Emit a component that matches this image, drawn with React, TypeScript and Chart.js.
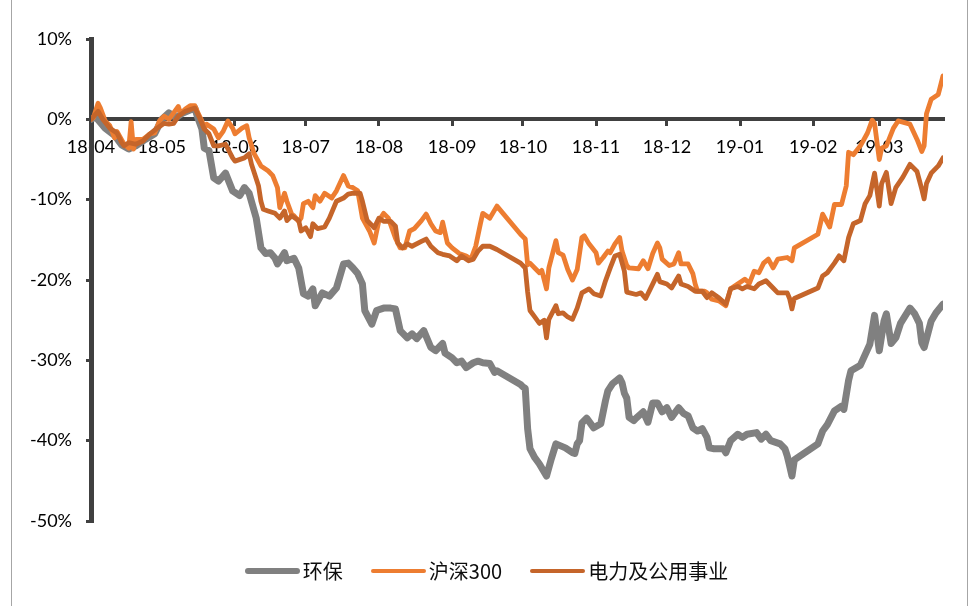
import { useEffect, useRef } from 'react';
import { Chart, registerables } from 'chart.js';

Chart.register(...registerables);

// Cumulative return (%) of three indices; x = calendar days counted from 2018-04-09.
const SERIES_NAMES = ['环保', '沪深300', '电力及公用事业'];

const hbDays = [
  0, 2, 6, 10, 13, 16, 19, 23, 27, 30, 33, 36, 39, 44, 45, 47, 48, 50, 52, 54, 57, 60, 63, 65, 67, 70, 72, 74, 76, 78,
  79, 82, 83, 86, 88, 90, 92, 94, 95, 98, 101, 104, 107, 109, 111, 113, 115, 116, 119, 121, 124, 127, 129, 131, 134,
  136, 138, 141, 144, 146, 149, 150, 153, 155, 157, 159, 162, 164, 166, 169, 171, 172, 182, 183, 184, 185, 186, 188,
  190, 191, 193, 195, 197, 201, 204, 205, 206, 207, 208, 210, 213, 216, 218, 219, 221, 224, 225, 226, 227, 228, 230,
  231, 234, 236, 238, 240, 242, 244, 246, 249, 251, 253, 255, 257, 259, 261, 262, 264, 268, 269, 271, 274, 276, 278,
  282, 284, 286, 288, 292, 294, 295, 296, 297, 298, 308, 310, 312, 315, 318, 319, 321, 322, 326, 330, 332, 334, 336,
  337, 339, 341, 343, 347, 349, 351, 352, 353, 356, 358, 361,
];
const hbPct = [
  0.0, 0.3, -1.1, -2.0, -3.2, -3.7, -3.3, -2.5, -1.8, 0.0, 0.8, 0.2, 0.8, 1.4, 0.4, -1.2, -3.6, -3.9, -7.3, -7.7, -6.7,
  -8.9, -9.5, -8.5, -9.2, -12.3, -16.0, -16.7, -16.6, -17.3, -18.0, -16.6, -17.6, -17.3, -18.5, -21.7, -22.0, -21.1,
  -23.2, -21.6, -22.0, -21.0, -18.0, -17.9, -18.5, -19.2, -20.5, -23.8, -25.5, -23.8, -23.5, -23.5, -23.6, -26.3,
  -27.2, -26.7, -27.3, -26.3, -28.4, -28.8, -27.9, -29.1, -29.7, -30.3, -30.1, -30.9, -30.3, -30.1, -30.3, -30.4,
  -31.5, -31.3, -33.0, -33.3, -33.5, -38.5, -41.0, -42.1, -42.9, -43.4, -44.4, -42.3, -40.4, -40.9, -41.5, -41.6,
  -40.4, -40.0, -37.8, -37.2, -38.4, -37.9, -35.0, -33.8, -32.9, -32.2, -32.8, -34.1, -34.7, -37.1, -37.5, -37.2,
  -36.4, -37.7, -35.3, -35.3, -36.4, -35.9, -37.1, -35.9, -36.6, -36.9, -38.4, -38.8, -38.5, -39.6, -40.9, -41.0,
  -41.0, -41.5, -40.0, -39.2, -39.6, -39.2, -39.0, -39.8, -39.2, -40.0, -40.4, -41.0, -41.9, -43.1, -44.4, -42.4,
  -40.4, -38.8, -38.0, -36.3, -35.7, -36.1, -32.5, -31.3, -30.6, -28.0, -24.4, -28.8, -25.1, -24.2, -27.9, -27.2,
  -25.4, -23.5, -24.2, -25.4, -27.8, -28.4, -25.1, -24.1, -23.0,
];

const hsDays = [
  0, 1, 3, 4, 6, 8, 10, 11, 14, 16, 17, 18, 19, 22, 25, 27, 29, 31, 33, 35, 37, 38, 40, 42, 44, 45, 47, 48, 49, 52, 54,
  56, 58, 60, 61, 64, 66, 67, 69, 72, 75, 77, 79, 80, 82, 83, 85, 86, 88, 89, 90, 92, 94, 95, 97, 99, 102, 104, 107,
  109, 111, 113, 115, 118, 120, 122, 124, 126, 129, 131, 133, 135, 137, 140, 142, 144, 146, 148, 149, 151, 153, 156,
  159, 161, 163, 165, 166, 169, 172, 182, 183, 184, 185, 186, 188, 190, 191, 193, 194, 197, 198, 200, 202, 204, 206,
  208, 209, 211, 214, 215, 217, 219, 220, 222, 224, 225, 227, 228, 232, 234, 236, 238, 240, 241, 242, 245, 247, 249,
  250, 253, 255, 256, 257, 260, 261, 263, 266, 269, 271, 274, 277, 279, 281, 283, 285, 287, 289, 291, 295, 297, 298,
  308, 310, 313, 315, 318, 320, 321, 323, 326, 329, 331, 332, 334, 335, 337, 340, 342, 347, 350, 352, 353, 354, 356,
  359, 361,
];
const hsPct = [
  0.0, 0.2, 2.0, 1.4, -0.2, -0.8, -2.3, -1.5, -3.1, -3.6, -0.3, -3.7, -2.5, -2.5, -1.8, -1.7, -0.2, 0.4, 0.0, 0.8, 1.6,
  0.7, 1.3, 1.7, 1.7, 1.0, -0.2, -1.1, -0.6, -1.2, -2.3, -1.5, -0.2, -1.1, -1.8, -1.1, -0.8, -2.3, -4.2, -5.8, -6.4,
  -7.0, -8.5, -11.0, -9.2, -10.2, -11.8, -12.0, -12.7, -12.3, -10.5, -10.2, -11.0, -9.5, -10.2, -9.2, -9.8, -8.9, -7.0,
  -8.3, -8.5, -8.9, -12.3, -13.9, -15.4, -12.6, -11.7, -12.3, -14.8, -16.0, -16.0, -13.9, -13.6, -12.6, -11.8, -13.0,
  -13.9, -14.1, -12.8, -15.4, -16.0, -16.7, -17.0, -17.4, -15.8, -13.0, -11.7, -12.3, -10.8, -14.3, -14.6, -14.9,
  -18.1, -17.9, -18.5, -19.1, -18.8, -21.1, -18.5, -15.1, -16.6, -16.9, -18.7, -20.0, -18.7, -14.7, -14.5, -15.5,
  -16.6, -17.9, -17.2, -16.4, -16.6, -15.5, -14.7, -16.4, -18.2, -18.5, -18.6, -17.6, -18.6, -16.7, -15.4, -16.0,
  -17.4, -18.2, -18.0, -16.6, -18.0, -18.0, -19.2, -20.5, -21.4, -21.4, -21.6, -22.4, -22.6, -23.2, -21.1, -20.5,
  -19.9, -20.4, -18.9, -19.1, -17.9, -17.4, -18.5, -17.4, -17.2, -17.6, -16.0, -14.3, -11.8, -13.4, -10.6, -10.6,
  -8.3, -4.1, -4.4, -3.3, -1.7, -0.1, -0.5, -5.0, -3.6, -3.3, -1.1, -0.2, -0.6, -2.5, -4.0, -3.3, 0.7, 2.5, 3.1, 5.4,
];

const dlDays = [
  0, 3, 5, 8, 11, 13, 14, 16, 19, 22, 25, 28, 31, 33, 35, 37, 40, 44, 46, 48, 50, 52, 54, 57, 60, 61, 65, 67, 68, 71,
  72, 73, 75, 78, 80, 82, 83, 85, 88, 89, 91, 93, 94, 96, 99, 101, 104, 107, 109, 111, 114, 115, 117, 120, 122, 124,
  127, 129, 130, 132, 134, 136, 140, 142, 144, 147, 149, 152, 155, 157, 160, 162, 164, 166, 169, 172, 182, 184, 185,
  186, 188, 190, 192, 193, 194, 197, 198, 200, 202, 204, 206, 208, 211, 213, 216, 218, 220, 222, 224, 226, 227, 231,
  233, 235, 237, 240, 241, 244, 246, 249, 250, 253, 256, 259, 261, 263, 266, 269, 271, 274, 276, 278, 281, 283, 286,
  289, 291, 295, 296, 297, 298, 308, 310, 312, 315, 317, 319, 321, 323, 326, 328, 330, 332, 334, 335, 337, 339, 341,
  344, 347, 350, 352, 353, 354, 356, 359, 361,
];
const dlPct = [
  0.0, 1.0, 0.0, -1.1, -1.7, -2.9, -3.3, -2.9, -3.1, -2.7, -1.8, -1.1, -0.5, -0.6, -0.5, 0.4, 1.0, 1.4, 0.2, -1.2, -1.8,
  -3.3, -3.3, -3.1, -4.8, -5.2, -4.8, -4.3, -5.6, -8.3, -10.2, -11.2, -11.4, -11.7, -12.3, -11.4, -12.6, -12.0, -12.6,
  -13.9, -13.5, -14.6, -13.0, -13.6, -13.4, -12.3, -10.2, -9.8, -9.3, -9.2, -9.2, -10.2, -12.6, -13.5, -12.3, -12.7,
  -12.7, -13.3, -15.4, -16.0, -15.5, -15.8, -15.2, -14.9, -15.8, -16.6, -16.8, -17.0, -17.6, -17.0, -17.6, -17.4,
  -16.4, -15.8, -15.8, -16.2, -17.9, -18.5, -21.5, -23.8, -24.6, -25.4, -25.0, -27.2, -24.9, -23.2, -24.2, -24.1,
  -24.6, -24.9, -23.5, -21.6, -21.1, -21.7, -22.0, -20.1, -18.5, -17.0, -16.8, -18.9, -21.5, -21.8, -21.6, -22.3,
  -21.1, -19.3, -20.2, -20.5, -21.0, -19.5, -20.5, -20.8, -21.4, -21.4, -22.2, -21.6, -22.2, -23.0, -21.1, -20.8,
  -21.1, -20.8, -21.1, -20.5, -20.1, -21.0, -21.6, -21.6, -22.3, -23.6, -22.3, -21.0, -19.5, -19.1, -17.9, -17.0,
  -17.6, -14.7, -13.0, -12.6, -10.5, -9.5, -6.7, -10.8, -8.0, -6.6, -10.5, -8.5, -7.2, -5.6, -6.5, -8.7, -9.9, -8.0,
  -6.7, -5.8, -4.8,
];

// Month ticks fall on the 9th of each month (same offsets as the series).
const monthTickDays = [0, 30, 61, 91, 122, 153, 183, 214, 244, 275, 306, 334];
const monthTickLabels = ['18-04', '18-05', '18-06', '18-07', '18-08', '18-09', '18-10', '18-11', '18-12', '19-01', '19-02', '19-03'];

const Y_MIN = -50;
const Y_MAX = 10;
const Y_STEP = 10;
const X_MAX = 361;

const GRAY = '#808080';
const ORANGE = '#ED7D31';
const RUST = '#C5652A';
const AXIS = '#404040';
const LABEL_FONT = { family: 'Lato', size: 18 };

const legendItems = [
  { name: SERIES_NAMES[0], color: GRAY, thickness: 6 },
  { name: SERIES_NAMES[1], color: ORANGE, thickness: 4 },
  { name: SERIES_NAMES[2], color: RUST, thickness: 4 },
];

const toPoints = (days: number[], values: number[]) => days.map((x, i) => ({ x, y: values[i] }));

export default function App() {
  const canvasRef = useRef<HTMLCanvasElement | null>(null);

  useEffect(() => {
    const canvas = canvasRef.current;
    if (!canvas) return;
    const chart = new Chart(canvas, {
      type: 'line',
      data: {
        datasets: [
          { label: SERIES_NAMES[0], data: toPoints(hbDays, hbPct), borderColor: GRAY, borderWidth: 7, order: 3 },
          { label: SERIES_NAMES[1], data: toPoints(hsDays, hsPct), borderColor: ORANGE, borderWidth: 4.8, order: 2 },
          { label: SERIES_NAMES[2], data: toPoints(dlDays, dlPct), borderColor: RUST, borderWidth: 4.8, order: 1 },
        ],
      },
      options: {
        responsive: false,
        animation: false,
        events: [],
        elements: {
          point: { radius: 0, hoverRadius: 0 },
          line: { tension: 0, borderJoinStyle: 'round', borderCapStyle: 'round', fill: false },
        },
        layout: { padding: { left: 0, right: 30, top: 39, bottom: 85 } },
        plugins: { legend: { display: false }, tooltip: { enabled: false } },
        scales: {
          x: {
            type: 'linear',
            min: 0,
            max: X_MAX,
            position: { y: 0 },
            afterBuildTicks: (axis: any) => {
              axis.ticks = monthTickDays.map((value) => ({ value }));
            },
            ticks: {
              autoSkip: false,
              maxRotation: 0,
              minRotation: 0,
              padding: 12,
              color: '#000',
              font: LABEL_FONT,
              callback: (_v: any, i: number) => monthTickLabels[i] ?? '',
            },
            grid: { drawOnChartArea: false, drawTicks: true, tickLength: 5, lineWidth: 3, color: AXIS },
            border: { display: true, color: AXIS, width: 4 },
          },
          y: {
            type: 'linear',
            min: Y_MIN,
            max: Y_MAX,
            afterFit: (axis: any) => {
              axis.width = 91;
            },
            ticks: {
              stepSize: Y_STEP,
              padding: 14,
              color: '#000',
              font: LABEL_FONT,
              callback: (v: any) => `${v}%`,
            },
            grid: { drawOnChartArea: false, drawTicks: true, tickLength: 5, lineWidth: 3, color: AXIS },
            border: { display: true, color: AXIS, width: 5 },
          },
        },
      },
    });
    return () => chart.destroy();
  }, []);

  return (
    <div
      style={{
        position: 'fixed',
        left: 0,
        top: 0,
        width: 973,
        height: 606,
        background: '#fff',
        overflow: 'hidden',
      }}
    >
      <div
        style={{
          position: 'absolute',
          left: 11,
          top: 0,
          width: 955,
          height: 606,
          borderLeft: '1px solid #A6A6A6',
          borderRight: '1px solid #A6A6A6',
        }}
      />
      <canvas
        ref={canvasRef}
        width={973}
        height={606}
        style={{ position: 'absolute', left: 0, top: 0, width: 973, height: 606 }}
      />
      <div
        style={{
          position: 'absolute',
          left: 0,
          top: 559,
          width: 973,
          height: 24,
          display: 'flex',
          justifyContent: 'center',
          alignItems: 'center',
          fontFamily: '"Noto Sans CJK SC", "Noto Sans", sans-serif',
          fontSize: 20,
          color: '#0d0d0d',
        }}
      >
        {legendItems.map((item, i) => (
          <div
            key={item.name}
            style={{ display: 'flex', alignItems: 'center', marginRight: i < legendItems.length - 1 ? 28 : 0 }}
          >
            <span
              style={{
                display: 'inline-block',
                width: 55,
                height: item.thickness,
                borderRadius: item.thickness / 2,
                background: item.color,
                marginRight: 3,
              }}
            />
            <span style={{ lineHeight: '24px', whiteSpace: 'nowrap' }}>{item.name}</span>
          </div>
        ))}
      </div>
    </div>
  );
}
